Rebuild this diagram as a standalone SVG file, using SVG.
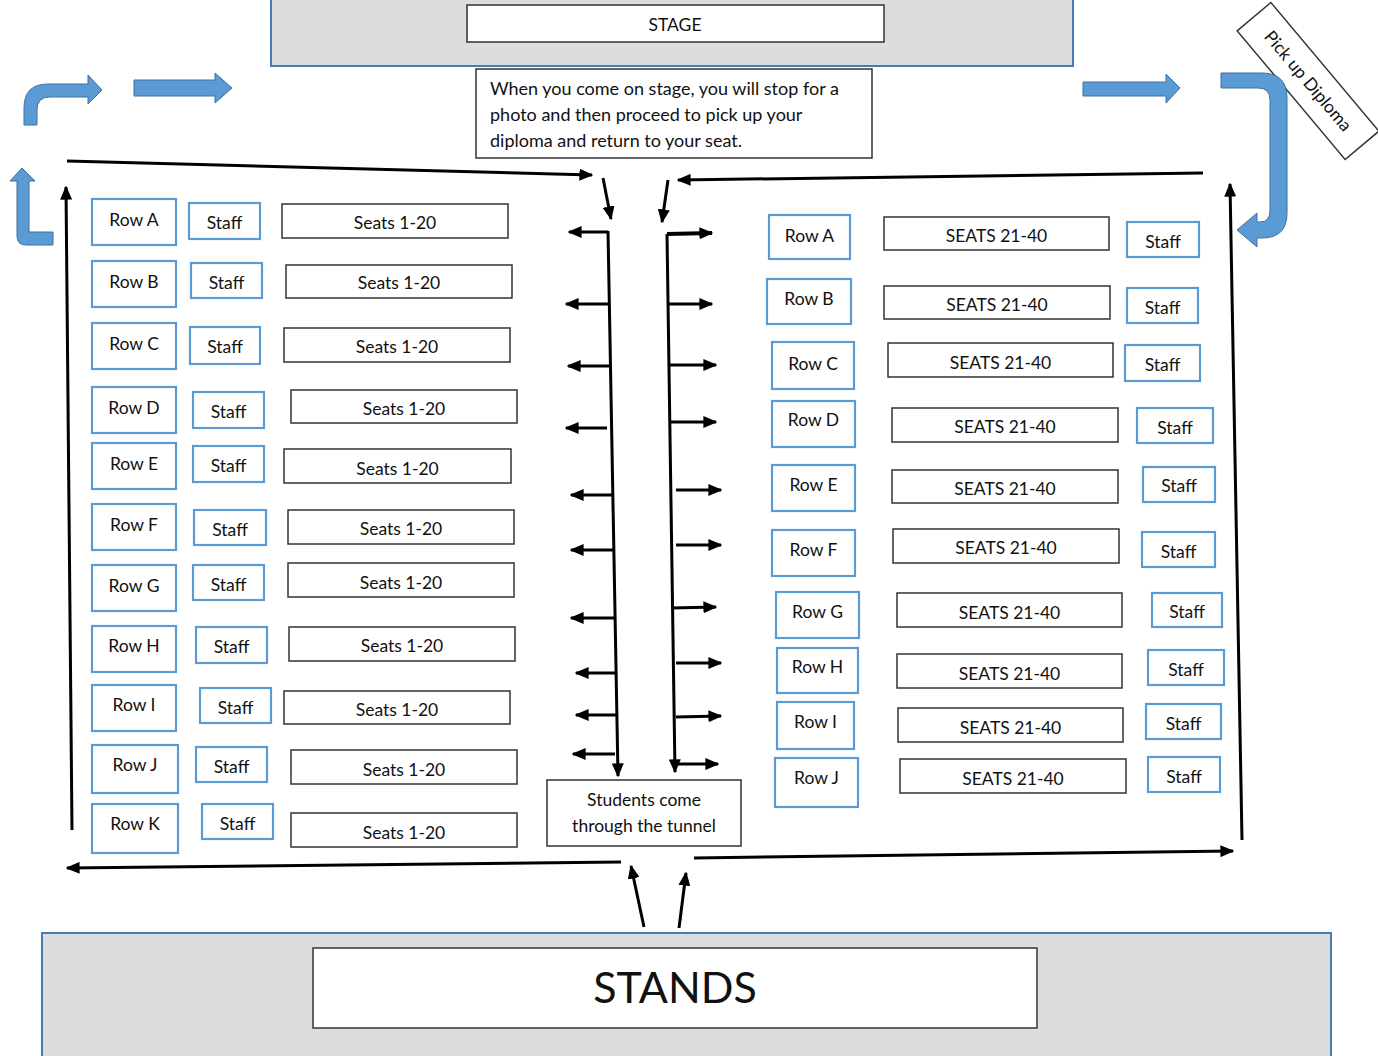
<svg xmlns="http://www.w3.org/2000/svg" width="1378" height="1056" viewBox="0 0 1378 1056">
<defs>
<style>
.area{fill:#dddddd;stroke:#4a7ab5;stroke-width:2}
.wb{fill:#fff;stroke:#333;stroke-width:1.5}
.bb{fill:#fff;stroke:#5b9bd5;stroke-width:2.2}
.t{font-family:Lato,"Liberation Sans",sans-serif;font-size:17.5px;fill:#111;text-anchor:middle}
.tl{font-family:Lato,"Liberation Sans",sans-serif;font-size:18px;fill:#111}
.ln{stroke:#000;stroke-width:3;fill:none;marker-end:url(#ah)}
.blue{fill:#5b9bd5;stroke:#41719c;stroke-width:1}
</style>
<marker id="ah" viewBox="0 0 10 10" refX="9" refY="5" markerWidth="14" markerHeight="12" markerUnits="userSpaceOnUse" orient="auto" preserveAspectRatio="none"><path d="M0,0 L10,5 L0,10 Z" fill="#000"/></marker>
</defs>

<g id="stage">
<rect class="area" x="271" y="-5" width="802" height="71"/>
<rect class="wb" x="467" y="5" width="417" height="37"/>
<text class="t" x="675" y="31">STAGE</text>
</g>
<g id="info">
<rect class="wb" x="476" y="69" width="396" height="89"/>
<text class="tl" x="490" y="95">When you come on stage, you will stop for a</text>
<text class="tl" x="490" y="121">photo and then proceed to pick up your</text>
<text class="tl" x="490" y="147">diploma and return to your seat.</text>
</g>
<g id="stands">
<rect class="area" x="42" y="933" width="1289" height="130"/>
<rect class="wb" x="313" y="948" width="724" height="80"/>
<text class="t" x="675" y="1003" style="font-size:43px">STANDS</text>
</g>
<g id="tunnel">
<rect class="wb" x="547" y="780" width="194" height="66"/>
<text class="t" x="644" y="806">Students come</text>
<text class="t" x="644" y="832">through the tunnel</text>
</g>
<g id="pickup" transform="translate(1308,81) rotate(50)">
<rect class="wb" x="-84" y="-22" width="168" height="44"/>
<text class="t" x="0" y="6">Pick up Diploma</text>
</g>

<g id="blue-arrows">
<path class="blue" d="M24,125 L24,108 Q24,84 48,84 L88,84 L88,75 L102,90 L88,104 L88,97 L50,97 Q37,97 37,110 L37,125 Z"/>
<path class="blue" d="M134,80 L215,80 L215,73 L232,88 L215,103 L215,96 L134,96 Z"/>
<path class="blue" d="M17,181 L10,181 L22,168 L35,181 L29,181 L29,232 L53,232 L53,245 L26,245 Q17,245 17,236 Z"/>
<path class="blue" d="M1083,82 L1166,82 L1166,74 L1180,88 L1166,103 L1166,96 L1083,96 Z"/>
<path class="blue" d="M1221,73 L1262,73 Q1287,73 1287,98 L1287,213 Q1287,238 1262,238 L1257,238 L1257,247 L1237,230 L1257,213 L1257,222 L1260,222 Q1270,222 1270,210 L1270,100 Q1270,88 1258,88 L1221,88 Z"/>
</g>

<g id="left-rows">
<g id="L-A"><rect class="bb" x="92" y="199" width="84" height="46"/><text class="t" x="134" y="226">Row A</text><rect class="bb" x="189" y="203" width="71" height="36"/><text class="t" x="224.5" y="229">Staff</text><rect class="wb" x="282" y="204" width="226" height="34"/><text class="t" x="395" y="229">Seats 1-20</text></g>
<g id="L-B"><rect class="bb" x="92" y="261" width="84" height="46"/><text class="t" x="134" y="288">Row B</text><rect class="bb" x="191" y="263" width="71" height="35"/><text class="t" x="226.5" y="289">Staff</text><rect class="wb" x="286" y="265" width="226" height="33"/><text class="t" x="399" y="289">Seats 1-20</text></g>
<g id="L-C"><rect class="bb" x="92" y="323" width="84" height="46"/><text class="t" x="134" y="350">Row C</text><rect class="bb" x="190" y="327" width="70" height="37"/><text class="t" x="225" y="353">Staff</text><rect class="wb" x="284" y="328" width="226" height="34"/><text class="t" x="397" y="353">Seats 1-20</text></g>
<g id="L-D"><rect class="bb" x="92" y="387" width="84" height="46"/><text class="t" x="134" y="414">Row D</text><rect class="bb" x="193" y="392" width="71" height="36"/><text class="t" x="228.5" y="418">Staff</text><rect class="wb" x="291" y="390" width="226" height="33"/><text class="t" x="404" y="415">Seats 1-20</text></g>
<g id="L-E"><rect class="bb" x="92" y="443" width="84" height="46"/><text class="t" x="134" y="470">Row E</text><rect class="bb" x="193" y="446" width="71" height="36"/><text class="t" x="228.5" y="472">Staff</text><rect class="wb" x="284" y="449" width="227" height="34"/><text class="t" x="397.5" y="475">Seats 1-20</text></g>
<g id="L-F"><rect class="bb" x="92" y="504" width="84" height="46"/><text class="t" x="134" y="531">Row F</text><rect class="bb" x="194" y="510" width="72" height="35"/><text class="t" x="230" y="536">Staff</text><rect class="wb" x="288" y="510" width="226" height="34"/><text class="t" x="401" y="535">Seats 1-20</text></g>
<g id="L-G"><rect class="bb" x="92" y="565" width="84" height="46"/><text class="t" x="134" y="592">Row G</text><rect class="bb" x="193" y="565" width="71" height="35"/><text class="t" x="228.5" y="591">Staff</text><rect class="wb" x="288" y="563" width="226" height="34"/><text class="t" x="401" y="589">Seats 1-20</text></g>
<g id="L-H"><rect class="bb" x="92" y="626" width="84" height="46"/><text class="t" x="134" y="652">Row H</text><rect class="bb" x="196" y="627" width="71" height="36"/><text class="t" x="231.5" y="653">Staff</text><rect class="wb" x="289" y="627" width="226" height="34"/><text class="t" x="402" y="652">Seats 1-20</text></g>
<g id="L-I"><rect class="bb" x="92" y="685" width="84" height="46"/><text class="t" x="134" y="711">Row I</text><rect class="bb" x="200" y="688" width="71" height="35"/><text class="t" x="235.5" y="714">Staff</text><rect class="wb" x="284" y="691" width="226" height="33"/><text class="t" x="397" y="716">Seats 1-20</text></g>
<g id="L-J"><rect class="bb" x="92" y="745" width="86" height="48"/><text class="t" x="135" y="771">Row J</text><rect class="bb" x="196" y="747" width="71" height="35"/><text class="t" x="231.5" y="773">Staff</text><rect class="wb" x="291" y="750" width="226" height="34"/><text class="t" x="404" y="776">Seats 1-20</text></g>
<g id="L-K"><rect class="bb" x="92" y="804" width="86" height="49"/><text class="t" x="135" y="830">Row K</text><rect class="bb" x="202" y="804" width="71" height="35"/><text class="t" x="237.5" y="830">Staff</text><rect class="wb" x="291" y="813" width="226" height="34"/><text class="t" x="404" y="839">Seats 1-20</text></g>
</g>

<g id="right-rows">
<g id="R-A"><rect class="bb" x="769" y="215" width="81" height="44"/><text class="t" x="809.5" y="242">Row A</text><rect class="wb" x="884" y="217" width="225" height="33"/><text class="t" x="996.5" y="242">SEATS 21-40</text><rect class="bb" x="1127" y="222" width="72" height="35"/><text class="t" x="1163" y="248">Staff</text></g>
<g id="R-B"><rect class="bb" x="767" y="279" width="84" height="45"/><text class="t" x="809" y="305">Row B</text><rect class="wb" x="884" y="286" width="226" height="33"/><text class="t" x="997" y="311">SEATS 21-40</text><rect class="bb" x="1127" y="288" width="71" height="35"/><text class="t" x="1162.5" y="314">Staff</text></g>
<g id="R-C"><rect class="bb" x="772" y="342" width="82" height="47"/><text class="t" x="813" y="370">Row C</text><rect class="wb" x="888" y="343" width="225" height="34"/><text class="t" x="1000.5" y="369">SEATS 21-40</text><rect class="bb" x="1125" y="345" width="75" height="36"/><text class="t" x="1162.5" y="371">Staff</text></g>
<g id="R-D"><rect class="bb" x="772" y="401" width="83" height="46"/><text class="t" x="813.5" y="426">Row D</text><rect class="wb" x="892" y="408" width="226" height="34"/><text class="t" x="1005" y="433">SEATS 21-40</text><rect class="bb" x="1137" y="408" width="76" height="35"/><text class="t" x="1175" y="434">Staff</text></g>
<g id="R-E"><rect class="bb" x="772" y="465" width="83" height="46"/><text class="t" x="813.5" y="491">Row E</text><rect class="wb" x="892" y="470" width="226" height="33"/><text class="t" x="1005" y="495">SEATS 21-40</text><rect class="bb" x="1143" y="467" width="72" height="35"/><text class="t" x="1179" y="492">Staff</text></g>
<g id="R-F"><rect class="bb" x="772" y="530" width="83" height="46"/><text class="t" x="813.5" y="556">Row F</text><rect class="wb" x="893" y="529" width="226" height="34"/><text class="t" x="1006" y="554">SEATS 21-40</text><rect class="bb" x="1142" y="532" width="73" height="35"/><text class="t" x="1178.5" y="558">Staff</text></g>
<g id="R-G"><rect class="bb" x="776" y="592" width="83" height="46"/><text class="t" x="817.5" y="618">Row G</text><rect class="wb" x="897" y="593" width="225" height="34"/><text class="t" x="1009.5" y="619">SEATS 21-40</text><rect class="bb" x="1152" y="593" width="70" height="34"/><text class="t" x="1187" y="618">Staff</text></g>
<g id="R-H"><rect class="bb" x="777" y="648" width="81" height="45"/><text class="t" x="817.5" y="673">Row H</text><rect class="wb" x="897" y="654" width="225" height="34"/><text class="t" x="1009.5" y="680">SEATS 21-40</text><rect class="bb" x="1148" y="650" width="76" height="35"/><text class="t" x="1186" y="676">Staff</text></g>
<g id="R-I"><rect class="bb" x="777" y="702" width="77" height="47"/><text class="t" x="815.5" y="728">Row I</text><rect class="wb" x="898" y="708" width="225" height="34"/><text class="t" x="1010.5" y="734">SEATS 21-40</text><rect class="bb" x="1146" y="704" width="75" height="35"/><text class="t" x="1183.5" y="730">Staff</text></g>
<g id="R-J"><rect class="bb" x="775" y="758" width="83" height="49"/><text class="t" x="816.5" y="784">Row J</text><rect class="wb" x="900" y="759" width="226" height="34"/><text class="t" x="1013" y="785">SEATS 21-40</text><rect class="bb" x="1148" y="757" width="72" height="35"/><text class="t" x="1184" y="783">Staff</text></g>
</g>

<g id="connectors">
<line class="ln" x1="67" y1="161" x2="592" y2="175"/>
<line class="ln" x1="1203" y1="173" x2="678" y2="180"/>
<line class="ln" x1="603" y1="178" x2="611" y2="219"/>
<line class="ln" x1="668" y1="180" x2="662" y2="222"/>
<line class="ln" x1="608" y1="231" x2="618" y2="776"/>
<line class="ln" x1="667" y1="234" x2="675" y2="772"/>
<line class="ln" x1="608" y1="232" x2="569" y2="232"/>
<line class="ln" x1="609" y1="304" x2="566" y2="304"/>
<line class="ln" x1="610" y1="366" x2="568" y2="366"/>
<line class="ln" x1="607" y1="428" x2="566" y2="428"/>
<line class="ln" x1="612" y1="495" x2="571" y2="495"/>
<line class="ln" x1="613" y1="550" x2="571" y2="550"/>
<line class="ln" x1="614" y1="618" x2="571" y2="618"/>
<line class="ln" x1="616" y1="673" x2="576" y2="673"/>
<line class="ln" x1="616" y1="715" x2="576" y2="715"/>
<line class="ln" x1="615" y1="754" x2="573" y2="754"/>
<line class="ln" x1="667" y1="234" x2="712" y2="233" style="stroke-width:4"/>
<line class="ln" x1="668" y1="304" x2="712" y2="304"/>
<line class="ln" x1="669" y1="365" x2="716" y2="365"/>
<line class="ln" x1="670" y1="422" x2="716" y2="422"/>
<line class="ln" x1="676" y1="490" x2="721" y2="490"/>
<line class="ln" x1="676" y1="545" x2="721" y2="545"/>
<line class="ln" x1="671" y1="608" x2="716" y2="607"/>
<line class="ln" x1="676" y1="663" x2="721" y2="663"/>
<line class="ln" x1="676" y1="717" x2="721" y2="716"/>
<line class="ln" x1="675" y1="764" x2="718" y2="764"/>
<line class="ln" x1="72" y1="830" x2="66" y2="187"/>
<line class="ln" x1="1242" y1="840" x2="1230" y2="184"/>
<line class="ln" x1="621" y1="862" x2="67" y2="868"/>
<line class="ln" x1="694" y1="858" x2="1233" y2="851"/>
<line class="ln" x1="644" y1="927" x2="631" y2="866"/>
<line class="ln" x1="679" y1="928" x2="686" y2="873"/>
</g>
</svg>
